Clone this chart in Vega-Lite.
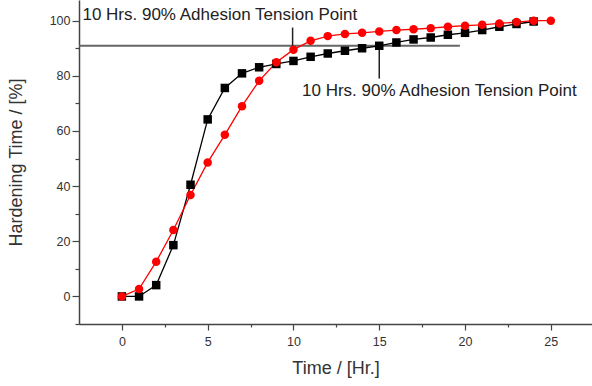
{
  "$schema": "https://vega.github.io/schema/vega-lite/v6.json",
  "width": 513,
  "height": 324,
  "autosize": {"type": "none"},
  "padding": {"left": 79, "top": 0, "right": 0, "bottom": 62},
  "background": "white",
  "config": {
    "view": {"stroke": null},
    "font": "Liberation Sans",
    "axis": {
      "grid": false,
      "domainColor": "#444",
      "domainWidth": 1.5,
      "tickColor": "#444",
      "tickWidth": 1.2,
      "labelColor": "#333",
      "labelFontSize": 12.5,
      "labelFont": "Liberation Sans",
      "titleFont": "Liberation Sans",
      "titleFontWeight": "normal",
      "titleColor": "#333",
      "titleFontSize": 18
    }
  },
  "resolve": {"axis": {"y": "independent"}},
  "datasets": {
    "series": [
      {"t": 0, "v": 0, "s": "Black"},
      {"t": 1, "v": 0, "s": "Black"},
      {"t": 2, "v": 4.1, "s": "Black"},
      {"t": 3, "v": 18.6, "s": "Black"},
      {"t": 4, "v": 40.5, "s": "Black"},
      {"t": 5, "v": 64.2, "s": "Black"},
      {"t": 6, "v": 75.6, "s": "Black"},
      {"t": 7, "v": 80.9, "s": "Black"},
      {"t": 8, "v": 83.1, "s": "Black"},
      {"t": 9, "v": 84.3, "s": "Black"},
      {"t": 10, "v": 85.4, "s": "Black"},
      {"t": 11, "v": 86.9, "s": "Black"},
      {"t": 12, "v": 88.1, "s": "Black"},
      {"t": 13, "v": 89.1, "s": "Black"},
      {"t": 14, "v": 90.0, "s": "Black"},
      {"t": 15, "v": 90.9, "s": "Black"},
      {"t": 16, "v": 92.1, "s": "Black"},
      {"t": 17, "v": 93.2, "s": "Black"},
      {"t": 18, "v": 93.9, "s": "Black"},
      {"t": 19, "v": 94.9, "s": "Black"},
      {"t": 20, "v": 95.6, "s": "Black"},
      {"t": 21, "v": 96.6, "s": "Black"},
      {"t": 22, "v": 97.8, "s": "Black"},
      {"t": 23, "v": 98.8, "s": "Black"},
      {"t": 24, "v": 99.7, "s": "Black"},
      {"t": 0, "v": 0, "s": "Red"},
      {"t": 1, "v": 2.7, "s": "Red"},
      {"t": 2, "v": 12.6, "s": "Red"},
      {"t": 3, "v": 24.1, "s": "Red"},
      {"t": 4, "v": 36.8, "s": "Red"},
      {"t": 5, "v": 48.6, "s": "Red"},
      {"t": 6, "v": 58.6, "s": "Red"},
      {"t": 7, "v": 69.0, "s": "Red"},
      {"t": 8, "v": 78.2, "s": "Red"},
      {"t": 9, "v": 84.9, "s": "Red"},
      {"t": 10, "v": 89.5, "s": "Red"},
      {"t": 11, "v": 92.7, "s": "Red"},
      {"t": 12, "v": 94.4, "s": "Red"},
      {"t": 13, "v": 95.2, "s": "Red"},
      {"t": 14, "v": 95.6, "s": "Red"},
      {"t": 15, "v": 96.1, "s": "Red"},
      {"t": 16, "v": 96.6, "s": "Red"},
      {"t": 17, "v": 96.9, "s": "Red"},
      {"t": 18, "v": 97.3, "s": "Red"},
      {"t": 19, "v": 97.8, "s": "Red"},
      {"t": 20, "v": 98.2, "s": "Red"},
      {"t": 21, "v": 98.5, "s": "Red"},
      {"t": 22, "v": 99.0, "s": "Red"},
      {"t": 23, "v": 99.5, "s": "Red"},
      {"t": 24, "v": 100, "s": "Red"},
      {"t": 25, "v": 100, "s": "Red"}
    ],
    "hline": [{"x1": -2.5, "x2": 19.7, "y": 90.9}],
    "vlines": [
      {"x": 9.95, "y1": 97.5, "y2": 90.2},
      {"x": 15, "y1": 90.9, "y2": 79}
    ],
    "notes": [
      {"x": -2.3, "y": 102.2, "label": "10 Hrs. 90% Adhesion Tension Point"},
      {"x": 10.5, "y": 74.6, "label": "10 Hrs. 90% Adhesion Tension Point"}
    ]
  },
  "layer": [
    {
      "data": {"name": "hline"},
      "mark": {"type": "rule", "color": "#666", "strokeWidth": 2},
      "encoding": {
        "x": {"field": "x1", "type": "quantitative", "scale": {"domain": [-2.5, 27.4], "nice": false, "zero": false},
          "axis": {
            "title": "Time / [Hr.]",
            "values": [0, 2.5, 5, 7.5, 10, 12.5, 15, 17.5, 20, 22.5, 25],
            "labelExpr": "datum.value % 5 == 0 ? datum.label : ''",
            "tickSize": {"condition": {"test": "datum.value % 5 == 0", "value": 6}, "value": 3},
            "labelPadding": 5,
            "titlePadding": 12
          }},
        "x2": {"field": "x2"},
        "y": {"field": "y", "type": "quantitative", "scale": {"domain": [-10, 107.5], "nice": false, "zero": false},
          "axis": {
            "orient": "left",
            "title": "Hardening Time / [%]",
            "values": [0, 20, 40, 60, 80, 100],
            "tickSize": 7,
            "labelPadding": 2,
            "titlePadding": 24
          }}
      }
    },
    {
      "data": {"name": "vlines"},
      "mark": {"type": "rule", "color": "#222", "strokeWidth": 1.5},
      "encoding": {
        "x": {"field": "x", "type": "quantitative"},
        "y": {"field": "y1", "type": "quantitative",
          "axis": {
            "orient": "left",
            "title": null,
            "values": [-10, 10, 30, 50, 70, 90],
            "labels": false,
            "domain": false,
            "tickSize": 4
          }},
        "y2": {"field": "y2"}
      }
    },
    {
      "data": {"name": "series"},
      "mark": {"type": "line", "strokeWidth": 1.3},
      "encoding": {
        "x": {"field": "t", "type": "quantitative"},
        "y": {"field": "v", "type": "quantitative", "axis": null},
        "color": {"field": "s", "type": "nominal", "scale": {"domain": ["Black", "Red"], "range": ["#000000", "#ff0000"]}, "legend": null},
        "detail": {"field": "s"}
      }
    },
    {
      "data": {"name": "series"},
      "mark": {"type": "point", "filled": true, "opacity": 1, "size": 72},
      "encoding": {
        "x": {"field": "t", "type": "quantitative"},
        "y": {"field": "v", "type": "quantitative", "axis": null},
        "color": {"field": "s", "type": "nominal", "legend": null},
        "shape": {"field": "s", "type": "nominal", "scale": {"domain": ["Black", "Red"], "range": ["square", "circle"]}, "legend": null}
      }
    },
    {
      "data": {"name": "notes"},
      "mark": {"type": "text", "align": "left", "baseline": "middle", "fontSize": 17, "font": "Liberation Sans", "color": "#222"},
      "encoding": {
        "x": {"field": "x", "type": "quantitative"},
        "y": {"field": "y", "type": "quantitative", "axis": null},
        "text": {"field": "label"}
      }
    }
  ]
}
